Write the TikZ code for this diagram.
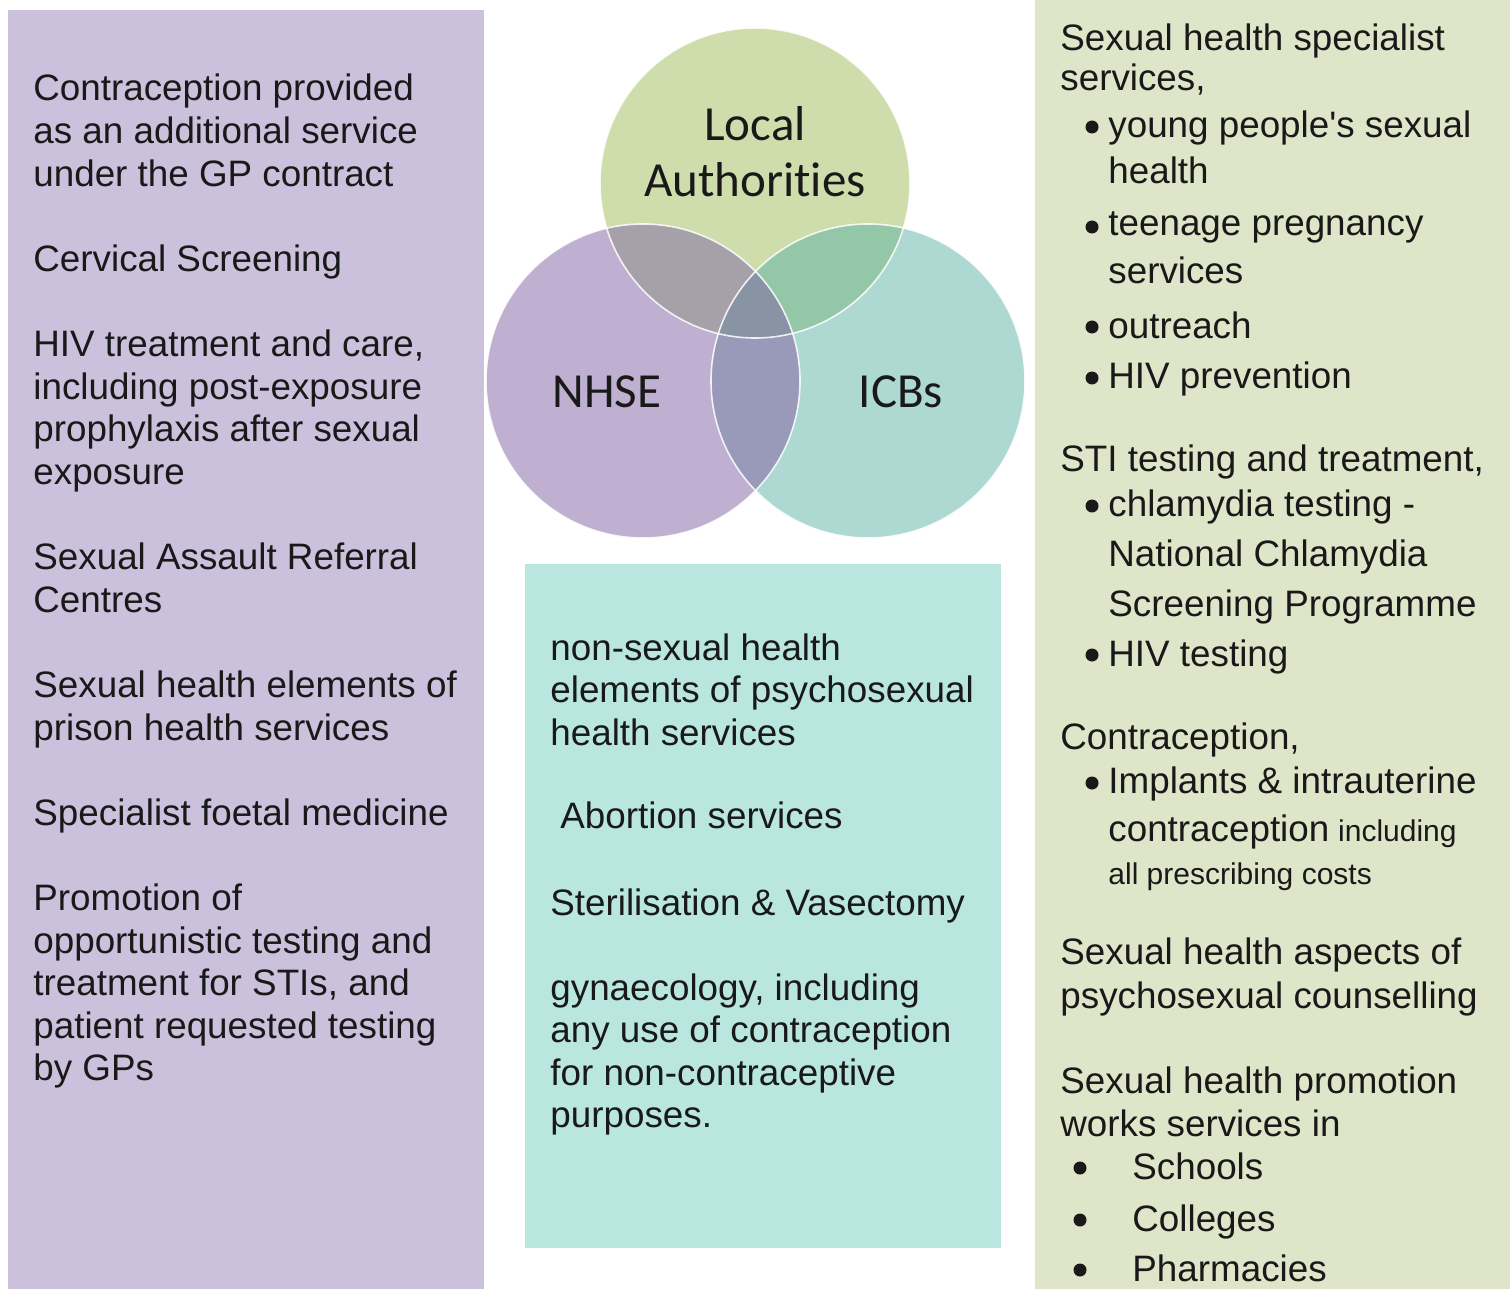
\documentclass[tikz,border=0pt]{standalone}
\usepackage{fontspec}
\newfontfamily\arialf{Liberation Sans}
\newfontfamily\calib{Carlito}[Ligatures=NoCommon]
\definecolor{boxL}{HTML}{CBC1DC}
\definecolor{boxR}{HTML}{DEE5C8}
\definecolor{boxM}{HTML}{B9E7E0}
\definecolor{colLA}{HTML}{CFDDAC}
\definecolor{colNH}{HTML}{BFB0D1}
\definecolor{colIC}{HTML}{AED8D2}
\definecolor{oLN}{HTML}{A6A1A8}
\definecolor{oLI}{HTML}{94C6A8}
\definecolor{oNI}{HTML}{999AB9}
\definecolor{oAll}{HTML}{8893A4}
\begin{document}
\begin{tikzpicture}[x=0.5pt,y=-0.5pt,
  txt/.style={font=\arialf\fontsize{18.4}{22}\selectfont, inner sep=0, anchor=base west, text=black!90},
  small/.style={font=\arialf\fontsize{15}{18}\selectfont, inner sep=0, anchor=base west, text=black!90},
  lab/.style={font=\calib\fontsize{24.5}{29}\selectfont, inner sep=0, anchor=base, text=black!90},
  bul/.style={circle, fill=black!90, inner sep=0, minimum size=6.5pt},
  ring/.style={draw=white, line width=0.8pt, opacity=0.85}]
\useasboundingbox (0,0) rectangle (1510,1289);
\fill[white] (0,0) rectangle (1510,1289);
% boxes
\fill[boxL] (8,10) rectangle (484,1289);
\fill[boxR] (1035,0) rectangle (1510,1289);
\fill[boxM] (525,564) rectangle (1001,1248);
% venn
\coordinate (cLA) at (755,183);
\coordinate (cNH) at (643,381);
\coordinate (cIC) at (868,381);
\fill[colLA] (cLA) circle (155);
\fill[colNH] (cNH) circle (157);
\fill[colIC] (cIC) circle (157);
\begin{scope}\clip (cLA) circle (155); \fill[oLN] (cNH) circle (157); \end{scope}
\begin{scope}\clip (cLA) circle (155); \fill[oLI] (cIC) circle (157); \end{scope}
\begin{scope}\clip (cNH) circle (157); \fill[oNI] (cIC) circle (157); \end{scope}
\begin{scope}\clip (cLA) circle (155); \clip (cNH) circle (157); \fill[oAll] (cIC) circle (157); \end{scope}
\draw[ring] (cLA) circle (155);
\draw[ring] (cNH) circle (157);
\draw[ring] (cIC) circle (157);
\node[lab] (la1) at (755,141) {Local};
\node[lab] (la2) at (755,197) {Authorit\kern0pt ies};
\node[lab] (nhse) at (607,407) {NHSE};
\node[lab] (icbs) at (901,407) {ICBs};
% left column
\foreach \yy/\t [count=\n] in {101/{Contraception provided},143.6/{as an additional service},186.2/{under the GP contract},271.4/{Cervical Screening},356.6/{HIV treatment and care,},399.2/{including post-exposure},441.8/{prophylaxis after sexual},484.4/{exposure},569.6/{Sexual Assault Referral},612.2/{Centres},697.4/{Sexual health elements of},740/{prison health services},825.2/{Specialist foetal medicine},910.4/{Promotion of},953/{opportunistic testing and},995.6/{treatment for STIs, and},1038.2/{patient requested testing},1080.8/{by GPs}}
  \node[txt] (L\n) at (33,\yy) {\t};
% middle column
\foreach \xx/\yy/\t [count=\n] in {550/660/{non-sexual health},550/702.5/{elements of psychosexual},550/745/{health services},560/828/{Abortion services},550/915/{Sterilisation \& Vasectomy},550/1000/{gynaecology, including},550/1042.5/{any use of contraception},550/1085/{for non-contraceptive},550/1127.5/{purposes.}}
  \node[txt] (M\n) at (\xx,\yy) {\t};
% right column headings
\foreach \yy/\t [count=\n] in {51/{Sexual health specialist},91/{services,},471/{STI testing and treatment,},749/{Contraception,},964/{Sexual health aspects of},1008/{psychosexual counselling},1093/{Sexual health promotion},1136/{works services in}}
  \node[txt] (R\n) at (1060,\yy) {\t};
% right column bullet texts
\foreach \yy/\t [count=\n] in {138/{young people's sexual},184/{health},236/{teenage pregnancy},284/{services},338/{outreach},388/{HIV prevention},516/{chlamydia testing -},566/{National Chlamydia},616/{Screening Programme},666/{HIV testing},793/{Implants \& intrauterine}}
  \node[txt] (B\n) at (1108,\yy) {\t};
\node[txt] (B12) at (1108,841) {contraception};
\node[small, anchor=base west] (B12b) at ([xshift=4pt]B12.base east) {including};
\node[small] (B13) at (1108,884) {all prescribing costs};
\foreach \yy [count=\n] in {127,227,327,378,506,655,783}
  \node[bul] (d\n) at (1092,\yy) {};
% lower list
\foreach \yy/\t [count=\n] in {1179/{Schools},1231/{Colleges},1281/{Pharmacies}}
  \node[txt] (S\n) at (1132,\yy) {\t};
\foreach \yy [count=\n] in {1168,1220,1270}
  \node[bul] (e\n) at (1080,\yy) {};
\end{tikzpicture}
\end{document}
